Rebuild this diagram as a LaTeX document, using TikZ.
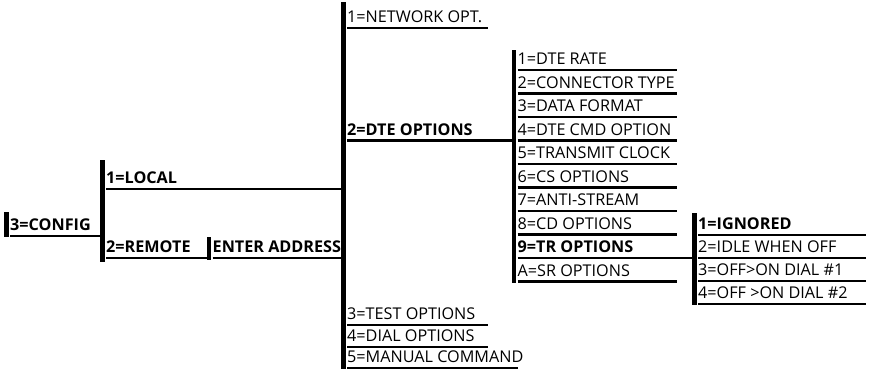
\documentclass[tikz,border=0pt]{standalone}
\usepackage{fontspec}
\setmainfont{Open Sans}
\usetikzlibrary{positioning,calc}
\tikzset{
  bar/.style={line width=4.5pt},
  uline/.style={line width=2.3pt},
  menu/.style={anchor=south west,inner sep=0pt,text depth=5pt,font=\fontsize{16.2}{20}\selectfont},
  menub/.style={menu,font=\fontsize{16.2}{20}\selectfont\bfseries}
}
\begin{document}
\begin{tikzpicture}[x=1pt,y=-1pt]
  \useasboundingbox (0,0) rectangle (869,370);
  \def\dy{23.5}
  \coordinate (c0t) at (6.5,212);   \coordinate (c0b) at (6.5,237);
  \coordinate (c1t) at (102.5,160); \coordinate (c1b) at (102.5,262);
  \coordinate (eat) at (209,237);   \coordinate (eab) at (209,260);
  \coordinate (c2t) at (343.5,2);   \coordinate (c2b) at (343.5,369);
  \coordinate (c3t) at (514,50);    \coordinate (c3b) at (514,283);
  \coordinate (c4t) at (694.5,213); \coordinate (c4b) at (694.5,305);
  \coordinate (e2) at (488,0); \coordinate (e2m) at (518,0);
  \coordinate (e3) at (677,0); \coordinate (e4) at (866,0);
  \foreach \col in {c0,c1,ea,c2,c3,c4} \draw[bar] (\col t) -- (\col b);

  \node[menub] (cfg) at (10,236) {3=CONFIG};
  \draw[uline] (cfg.south west) -- (cfg.south west -| c1t);

  \node[menub] (loc) at (106,189) {1=LOCAL};
  \node[menub] (rem) at (106,258) {2=REMOTE};
  \node[menub] (ent) at (212.5,258) {ENTER ADDRESS};
  \draw[uline] (loc.south west) -- (loc.south west -| c2t);
  \draw[uline] (rem.south west) -- (rem.south west -| eat);
  \draw[uline] (ent.south west) -- (ent.south west -| c2t);

  \node[menu] (net) at (347,28) {1=NETWORK OPT.};
  \node[menub] (dte) at (347,140.5) {2=DTE OPTIONS};
  \node[menu] (tst) at (347,325) {3=TEST OPTIONS};
  \node[menu] (dia) at (347,347) {4=DIAL OPTIONS};
  \node[menu] (man) at (347,368) {5=MANUAL COMMAND};
  \draw[uline] (net.south west) -- (net.south west -| e2);
  \draw[uline] (dte.south west) -- (dte.south west -| c3t);
  \draw[uline] (tst.south west) -- (tst.south west -| e2);
  \draw[uline] (dia.south west) -- (dia.south west -| e2);
  \draw[uline] (man.south west) -- (man.south west -| e2m);

  \foreach \lbl [count=\i] in {1=DTE RATE,2=CONNECTOR TYPE,3=DATA FORMAT,4=DTE CMD OPTION,
      5=TRANSMIT CLOCK,6=CS OPTIONS,7=ANTI-STREAM,8=CD OPTIONS,9=TR OPTIONS,A=SR OPTIONS}{
    \node[menu] (o\i) at (517.5,{70+\dy*(\i-1)}) {\ifnum\i=9\bfseries\fi\lbl};
    \draw[uline] (o\i.south west) -- (o\i.south west -| e3);
  }
  \draw[uline] (o9.south west -| e3) -- (o9.south west -| c4t);

  \foreach \lbl [count=\i] in {1=IGNORED,2=IDLE WHEN OFF,3=OFF>ON DIAL \#1,4=OFF >ON DIAL \#2}{
    \node[menu] (tr\i) at (698,{235+23*(\i-1)}) {\ifnum\i=1\bfseries\fi\lbl};
    \draw[uline] (tr\i.south west) -- (tr\i.south west -| e4);
  }
\end{tikzpicture}
\end{document}
